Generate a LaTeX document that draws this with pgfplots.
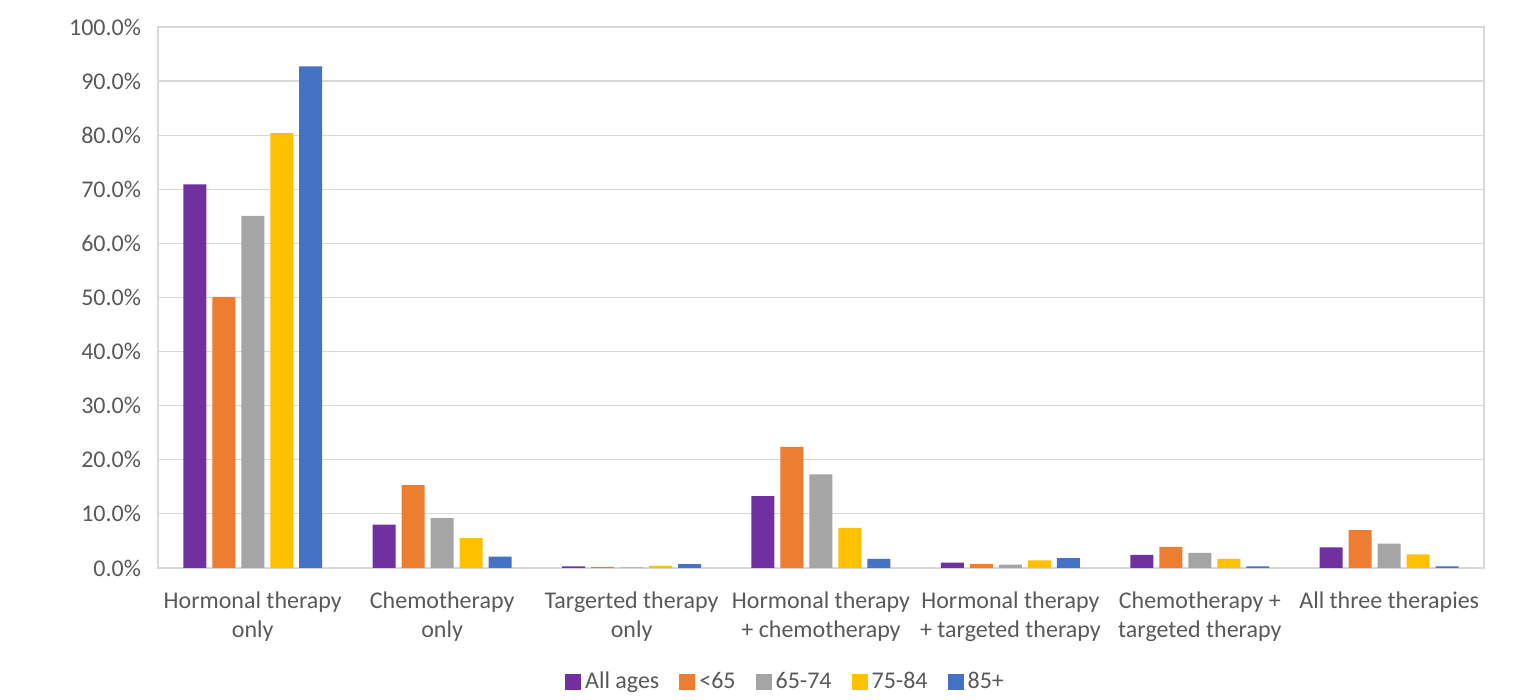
\documentclass[border=0pt]{standalone}
\usepackage{fontspec}
\setmainfont{Carlito}
\usepackage{pgfplots}
\pgfplotsset{compat=1.18}
\definecolor{cAll}{HTML}{7030A0}
\definecolor{cU65}{HTML}{ED7D31}
\definecolor{c6574}{HTML}{A5A5A5}
\definecolor{c7584}{HTML}{FFC000}
\definecolor{c85}{HTML}{4472C4}
\definecolor{txt}{HTML}{595959}
\definecolor{grd}{HTML}{D9D9D9}
\begin{document}
\begin{tikzpicture}
\begin{axis}[
  width=663pt, height=270.5pt,
  scale only axis,
  ybar=3pt, bar width=11.5pt,
  xmin=-0.5, xmax=6.5,
  ymin=0, ymax=100,
  ytick={0,10,...,100},
  yticklabel={\pgfmathprintnumber[fixed,fixed zerofill,precision=1]{\tick}\%},
  /pgf/number format/assume math mode=true,
  xtick={0,...,6},
  xticklabels={Hormonal therapy\\only, Chemotherapy\\only, Targerted therapy\\only, Hormonal therapy\\+ chemotherapy, Hormonal therapy\\+ targeted therapy, Chemotherapy +\\targeted therapy, All three therapies},
  xticklabel style={align=center, font=\fontsize{12}{14.5}\selectfont, text=txt, yshift=-8.5pt},
  yticklabel style={font=\fontsize{12}{14.5}\selectfont, text=txt, xshift=-5pt},
  major tick length=0pt,
  ymajorgrids, grid style={grd, line width=0.6pt},
  axis line style={grd, line width=0.6pt},
  clip=false,
  legend style={at={(0.474,-0.211)}, anchor=center, draw=none, font=\fontsize{12}{14.5}\selectfont, text=txt, /tikz/every even column/.append style={column sep=8pt}},
  legend columns=5,
  legend image code/.code={\fill[#1] (0pt,-4pt) rectangle (8pt,4pt);},
]
\addplot[fill=cAll, draw=none] coordinates {(0,70.9) (1,8.0) (2,0.3) (3,13.3) (4,1.0) (5,2.4) (6,3.8)};
\addlegendentry{All ages}
\addplot[fill=cU65, draw=none] coordinates {(0,50.1) (1,15.3) (2,0.2) (3,22.4) (4,0.7) (5,3.9) (6,7.0)};
\addlegendentry{<65}
\addplot[fill=c6574, draw=none] coordinates {(0,65.1) (1,9.2) (2,0.1) (3,17.3) (4,0.6) (5,2.8) (6,4.5)};
\addlegendentry{65-74}
\addplot[fill=c7584, draw=none] coordinates {(0,80.4) (1,5.5) (2,0.4) (3,7.4) (4,1.4) (5,1.7) (6,2.5)};
\addlegendentry{75-84}
\addplot[fill=c85, draw=none] coordinates {(0,92.7) (1,2.1) (2,0.7) (3,1.7) (4,1.8) (5,0.3) (6,0.3)};
\addlegendentry{85+}
\path (rel axis cs:-0.1192,-0.2311) rectangle (rel axis cs:1.0340,1.0499);
\end{axis}
\end{tikzpicture}
\end{document}
